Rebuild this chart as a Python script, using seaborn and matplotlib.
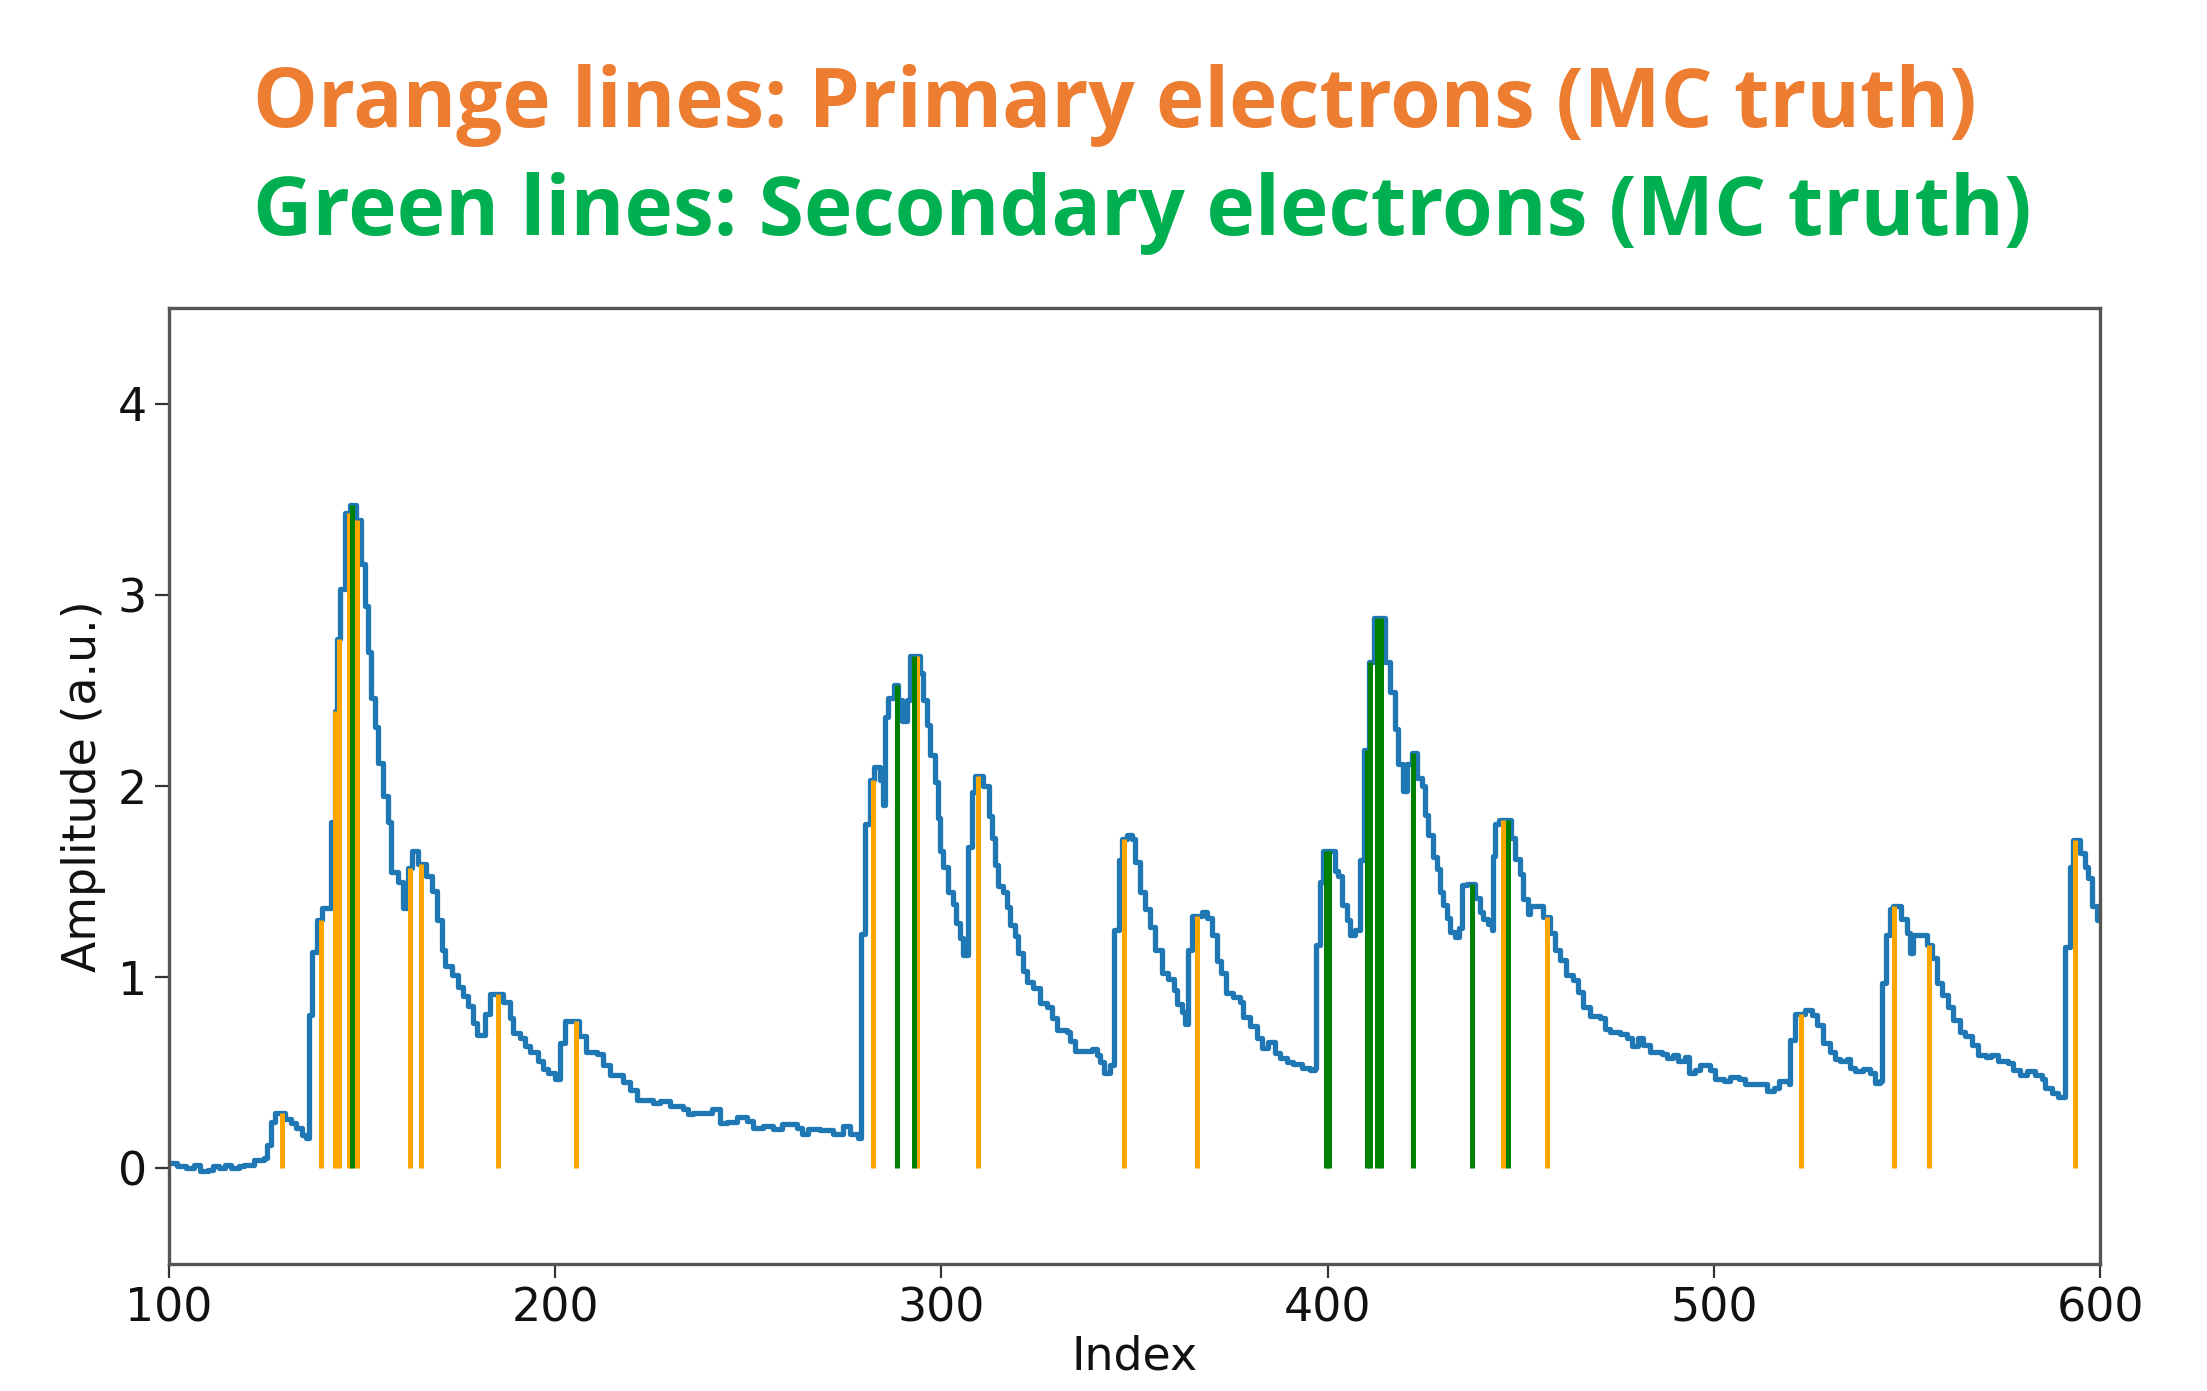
import numpy as np
import pandas as pd
import matplotlib
matplotlib.use("Agg")
import matplotlib.pyplot as plt
import seaborn as sns

# ---- data: step-function waveform (knot index, amplitude) ----
knot_idx = [
    100, 102, 104.5, 106.5, 108, 110, 111.5, 113, 114.5, 116, 118, 119.5, 122, 124.5,
    125.5, 126.5, 127.5, 130, 131.5, 133, 134.5, 135.5, 136.2, 137, 138.3, 139.5, 142,
    142.9, 143.4, 144.3, 145.5, 146.8, 148.4, 149.8, 150.7, 151.5, 152.4, 153.3, 154.1,
    155.4, 156.7, 157.6, 159.3, 160.6, 161.9, 163.0, 164.6, 166.5, 168, 169.3, 170.6,
    171.5, 173.2, 174.9, 176.2, 177.5, 178.8, 179.7, 181.9, 183.2, 186.6, 188.3, 189.2,
    190.9, 192.2, 193.5, 195.6, 196.9, 198.2, 199.9, 201.2, 202.5, 206.2, 208.1, 210.7,
    212.4, 214.2, 217.6, 219.4, 221.1, 225.4, 227.1, 229.7, 233.2, 234.5, 235.8, 240.5,
    242.7, 244.4, 247, 249.6, 251.3, 253.9, 256.5, 258.6, 262.5, 263.8, 265.5, 268.6,
    272, 274.6, 276.3, 278.5, 279.3, 280.2, 281.5, 282.5, 284.1, 284.8, 285.4, 286.3,
    287.6, 288.8, 289.7, 291, 291.9, 294.5, 295.3, 296.2, 297, 298.3, 299.2, 299.6,
    300.5, 301.8, 303.1, 303.9, 304.8, 305.6, 306.9, 307.8, 308.7, 310.8, 312.2, 313,
    313.9, 314.7, 316, 316.9, 317.8, 319, 319.9, 321.2, 322.1, 323.8, 325.5, 327.3,
    328.6, 329.9, 332.5, 333.3, 334.6, 339, 340.3, 341.1, 342, 343.7, 344.6, 345.9,
    346.8, 348, 349.3, 350.2, 351.4, 352.7, 354, 355.3, 357, 358.8, 360.1, 360.9,
    362.2, 363.1, 363.9, 364.8, 367.4, 368.7, 370, 371.3, 372.5, 373.8, 375.6, 377.3,
    378.1, 379.9, 381.6, 382.9, 384.6, 386.4, 387.6, 389.4, 391.1, 393.3, 395.4, 396.7,
    397.1, 398, 398.9, 401.9, 402.8, 403.6, 404.9, 405.8, 407.1, 408.4, 409.3, 410.7,
    411.9, 414.9, 416.2, 417.5, 418.3, 419.6, 420.5, 421.8, 423.1, 424.4, 425.3, 426.1,
    427.4, 428.3, 429.2, 430, 430.9, 431.8, 433.1, 433.9, 434.8, 436.1, 438.2, 439.5,
    440.3, 441.6, 442.5, 442.9, 443.3, 444.3, 447.6, 448.5, 449.8, 450.6, 451.9, 452.3,
    455.8, 457.5, 458.8, 460.1, 461.8, 463.5, 464.8, 466.1, 467.9, 470.5, 471.8, 473.1,
    475.7, 477.4, 478.7, 480.4, 481.7, 483.5, 486.5, 487.8, 489.5, 490.8, 492.6, 493.5,
    495.2, 496.5, 499.1, 500.4, 502.6, 504.3, 506.5, 508.2, 513.8, 515.5, 516.8, 519.4,
    519.8, 521.1, 523.6, 525.3, 526.6, 528.3, 530.1, 531.4, 532.7, 534.4, 535.3, 536.5,
    538.7, 540.4, 541.7, 543.0, 543.5, 544.7, 545.6, 546.5, 548.6, 549.9, 550.8, 551.7,
    555.1, 556.4, 557.7, 559.0, 560.7, 562.0, 563.7, 565.0, 566.8, 568.5, 570.6, 571.9,
    573.7, 576.2, 577.5, 579.3, 581.0, 583.2, 584.9, 585.7, 587.5, 589.2, 590.9, 592.2,
    593.1, 594.8, 596.1, 597.0, 597.8, 599.1, 601.0,
]
knot_amp = [
    0.03, 0.015, 0.0, 0.02, -0.015, -0.01, 0.01, 0.0, 0.02, 0.0, 0.01, 0.02, 0.045, 0.055,
    0.125, 0.245, 0.29, 0.26, 0.24, 0.21, 0.175, 0.16, 0.80, 1.13, 1.30, 1.36, 1.81,
    2.39, 2.77, 3.03, 3.43, 3.47, 3.39, 3.16, 2.94, 2.70, 2.46, 2.31, 2.12,
    1.95, 1.81, 1.55, 1.50, 1.36, 1.57, 1.66, 1.59, 1.53, 1.45, 1.30, 1.14,
    1.06, 1.01, 0.95, 0.90, 0.85, 0.76, 0.70, 0.81, 0.91, 0.87, 0.785, 0.71,
    0.68, 0.64, 0.61, 0.56, 0.52, 0.50, 0.47, 0.655, 0.77, 0.69, 0.61, 0.60,
    0.54, 0.49, 0.45, 0.41, 0.36, 0.34, 0.35, 0.325, 0.31, 0.285, 0.29, 0.31,
    0.24, 0.245, 0.27, 0.25, 0.21, 0.22, 0.205, 0.23, 0.21, 0.18, 0.205, 0.20,
    0.18, 0.22, 0.18, 0.16, 1.225, 1.80, 2.03, 2.10, 2.03, 1.90, 2.36, 2.46,
    2.53, 2.45, 2.34, 2.45, 2.68, 2.59, 2.45, 2.32, 2.16, 2.02, 1.835, 1.66,
    1.575, 1.445, 1.385, 1.285, 1.205, 1.115, 1.68, 1.97, 2.05, 2.00, 1.845, 1.73,
    1.585, 1.475, 1.445, 1.365, 1.275, 1.215, 1.125, 1.035, 0.975, 0.945, 0.865, 0.845,
    0.785, 0.725, 0.715, 0.665, 0.615, 0.625, 0.595, 0.555, 0.50, 0.54, 1.245, 1.615,
    1.725, 1.745, 1.725, 1.605, 1.445, 1.355, 1.265, 1.14, 1.02, 0.99, 0.935, 0.86,
    0.82, 0.755, 1.14, 1.32, 1.34, 1.31, 1.22, 1.085, 1.02, 0.915, 0.895, 0.87,
    0.79, 0.745, 0.68, 0.63, 0.66, 0.605, 0.575, 0.555, 0.545, 0.525, 0.515, 0.525,
    1.17, 1.50, 1.66, 1.555, 1.53, 1.38, 1.30, 1.22, 1.245, 1.615, 2.19, 2.65,
    2.88, 2.65, 2.49, 2.30, 2.115, 1.975, 2.115, 2.17, 2.04, 2.0, 1.85, 1.745,
    1.63, 1.565, 1.445, 1.38, 1.31, 1.235, 1.21, 1.255, 1.48, 1.49, 1.415, 1.34,
    1.305, 1.28, 1.245, 1.635, 1.80, 1.82, 1.73, 1.62, 1.54, 1.41, 1.33, 1.375,
    1.315, 1.23, 1.14, 1.09, 1.01, 0.985, 0.925, 0.845, 0.795, 0.785, 0.73, 0.715,
    0.705, 0.68, 0.64, 0.68, 0.645, 0.61, 0.60, 0.575, 0.595, 0.56, 0.585, 0.50,
    0.515, 0.54, 0.515, 0.465, 0.455, 0.48, 0.47, 0.44, 0.405, 0.42, 0.455, 0.44,
    0.67, 0.81, 0.83, 0.80, 0.75, 0.655, 0.61, 0.57, 0.56, 0.57, 0.525, 0.51,
    0.52, 0.50, 0.445, 0.455, 0.97, 1.22, 1.355, 1.375, 1.305, 1.23, 1.125, 1.22,
    1.17, 1.10, 0.97, 0.905, 0.845, 0.775, 0.715, 0.69, 0.645, 0.595, 0.585, 0.595,
    0.56, 0.55, 0.515, 0.49, 0.51, 0.49, 0.47, 0.42, 0.395, 0.375, 1.16, 1.575,
    1.72, 1.65, 1.575, 1.52, 1.375, 1.30, 1.30,
]

# MC truth arrival indices
primary_idx = [129.3, 139.3, 143.1, 144.1, 146.5, 148.6, 162.4, 165.3, 185.2, 205.5,
               282.4, 293.6, 309.5, 347.3, 366.3, 445.4, 456.7, 522.5, 546.7, 555.7, 593.5]
secondary_idx = [147.5, 288.4, 292.8, 399.6, 400.3, 410.1, 410.9, 412.7, 413.8,
                 422.1, 437.4, 446.6]

title_primary = "Orange lines: Primary electrons (MC truth)"
title_secondary = "Green lines: Secondary electrons (MC truth)"
x_ticks = [100, 200, 300, 400, 500, 600]
y_ticks = [0, 1, 2, 3, 4]

# ---- build ----
df = pd.DataFrame({"Index": knot_idx, "Amplitude": knot_amp})
k_x = np.asarray(knot_idx)
k_y = np.asarray(knot_amp)


def height_at(x):
    i = np.searchsorted(k_x, x, side="right") - 1
    return k_y[i]


sns.set_style("ticks")
plt.rcParams["font.family"] = ["DejaVu Sans"]

W, H, DPI = 2207, 1391, 100
fig = plt.figure(figsize=(W / DPI, H / DPI), dpi=DPI)
ax = fig.add_axes([169 / W, 1 - 1264 / H, (2100 - 169) / W, (1264 - 308) / H])

sns.lineplot(data=df, x="Index", y="Amplitude", ax=ax, color="#1f77b4",
             linewidth=3.8, drawstyle="steps-post", estimator=None, sort=True, zorder=2)

ax.vlines(primary_idx, 0, [height_at(v) for v in primary_idx], color="orange",
          linewidth=3.6, zorder=3)
ax.vlines(secondary_idx, 0, [height_at(v) for v in secondary_idx], color="green",
          linewidth=3.6, zorder=4)

ax.set_xlim(100, 600)
ax.set_ylim(-0.5, 4.5)
ax.set_xticks(x_ticks)
ax.set_yticks(y_ticks)
ax.tick_params(axis="both", labelsize=33, length=10, width=1.6, color="#333333",
               labelcolor="#111111", pad=6)
ax.set_xlabel("Index", fontsize=33, labelpad=2, color="#111111")
ax.set_ylabel("Amplitude (a.u.)", fontsize=33, labelpad=8, color="#111111")
for s in ax.spines.values():
    s.set_visible(True)
    s.set_color("#555555")
    s.set_linewidth(2.4)

# titles (left aligned, fit to reference widths)
t1 = fig.text(253 / W, 1 - 127 / H, title_primary, color="#ED7D31", fontsize=60,
              fontweight="bold", family="Open Sans", ha="left", va="baseline")
t2 = fig.text(253 / W, 1 - 235 / H, title_secondary, color="#00B050", fontsize=60,
              fontweight="bold", family="Open Sans", ha="left", va="baseline")
fig.canvas.draw()
r = fig.canvas.get_renderer()
for t, target in ((t1, 1724), (t2, 1778)):
    w = t.get_window_extent(r).width
    t.set_fontsize(60 * target / w)

fig.savefig("out.png", dpi=DPI, facecolor="white")
